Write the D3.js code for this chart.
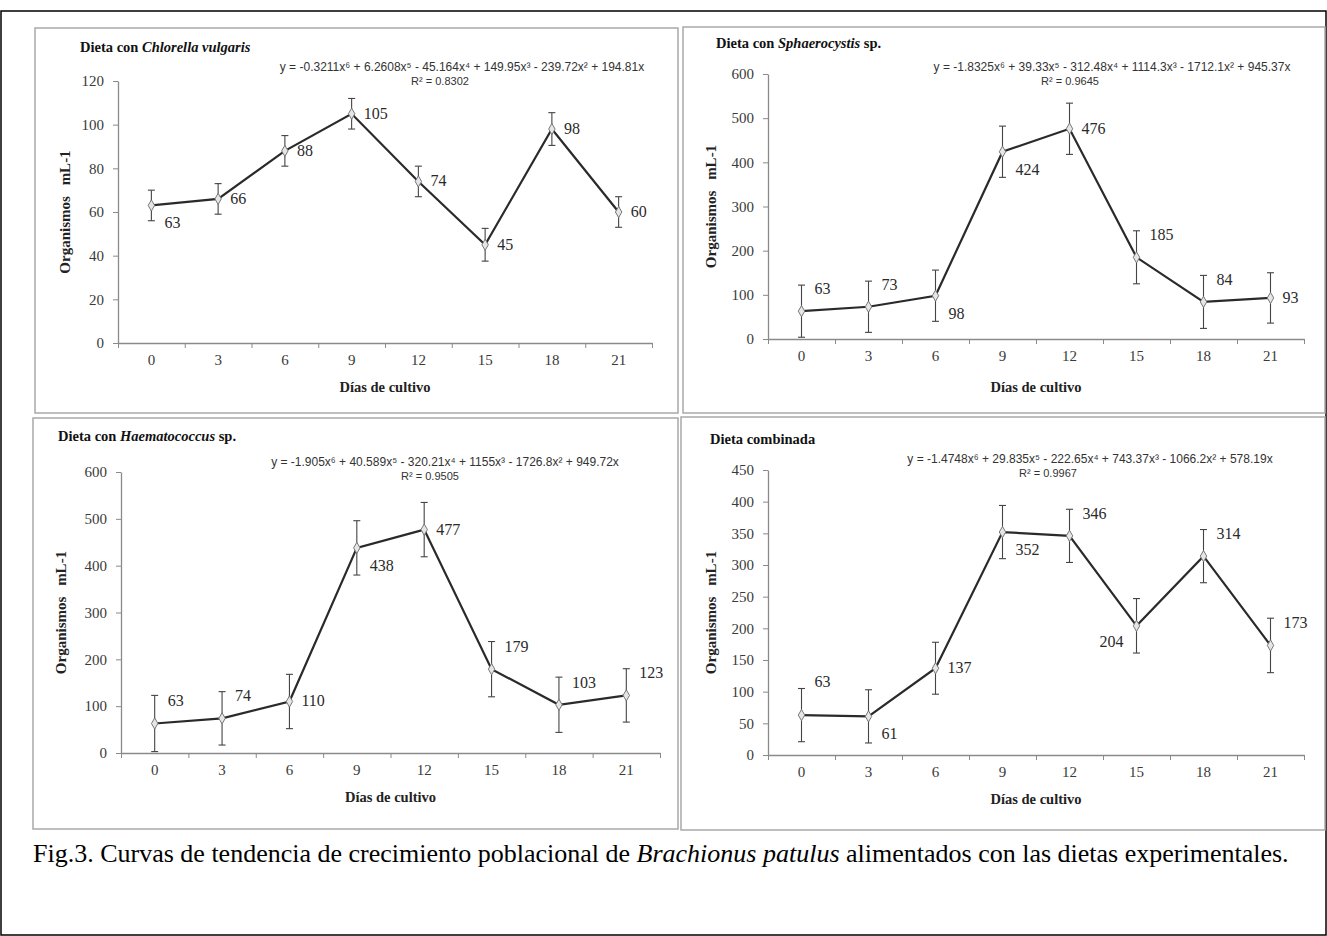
<!DOCTYPE html>
<html>
<head>
<meta charset="utf-8">
<script src="https://cdn.jsdelivr.net/npm/d3@7"></script>
<style>
  body { margin: 0; background: #fff; }
  svg text { font-family: "Liberation Serif", "Times New Roman", serif; }
</style>
</head>
<body>
<div class="svg-container"></div>
<script>
const outerWidth = 1327;
const outerHeight = 936;

// data
const days = [0, 3, 6, 9, 12, 15, 18, 21];

const chlorella = [63, 66, 88, 105, 74, 45, 98, 60];
const chlorellaErr = [7, 7, 7, 7, 7, 7.5, 7.5, 7];
const chlorellaTicks = [0, 20, 40, 60, 80, 100, 120];

const sphaero = [63, 73, 98, 424, 476, 185, 84, 93];
const sphaeroErr = [59, 58, 58, 58, 58, 60, 60, 57];
const sphaeroTicks = [0, 100, 200, 300, 400, 500, 600];

const haemato = [63, 74, 110, 438, 477, 179, 103, 123];
const haematoErr = [60, 57, 58, 58, 58, 59, 59, 57];
const haematoTicks = [0, 100, 200, 300, 400, 500, 600];

const combinada = [63, 61, 137, 352, 346, 204, 314, 173];
const combinadaErr = [42, 42, 41, 42, 42, 43, 42, 43];
const combinadaTicks = [0, 50, 100, 150, 200, 250, 300, 350, 400, 450];

const eqChlorella = ['y = -0.3211x\u2076 + 6.2608x\u2075 - 45.164x\u2074 + 149.95x\u00b3 - 239.72x\u00b2 + 194.81x', 'R\u00b2 = 0.8302'];
const eqSphaero = ['y = -1.8325x\u2076 + 39.33x\u2075 - 312.48x\u2074 + 1114.3x\u00b3 - 1712.1x\u00b2 + 945.37x', 'R\u00b2 = 0.9645'];
const eqHaemato = ['y = -1.905x\u2076 + 40.589x\u2075 - 320.21x\u2074 + 1155x\u00b3 - 1726.8x\u00b2 + 949.72x', 'R\u00b2 = 0.9505'];
const eqCombinada = ['y = -1.4748x\u2076 + 29.835x\u2075 - 222.65x\u2074 + 743.37x\u00b3 - 1066.2x\u00b2 + 578.19x', 'R\u00b2 = 0.9967'];

// where each value label sits relative to its point
const placeChlorella = ['br', 'r', 'r', 'r', 'r', 'r', 'r', 'r'];
const placeSphaero = ['tr', 'tr', 'br', 'br', 'r', 'tr', 'tr', 'r'];
const placeHaemato = ['tr', 'tr', 'r', 'br', 'r', 'tr', 'tr', 'tr'];
const placeCombinada = ['tt', 'br', 'r', 'br', 'tr', 'bl', 'tr', 'tr'];

const panels = [
  { title: ['Dieta con ', 'Chlorella vulgaris', ''], values: chlorella, err: chlorellaErr, ticks: chlorellaTicks, eq: eqChlorella, place: placeChlorella,
    box: [35, 28, 643, 385], plot: { left: 118, right: 652, top: 81, bottom: 343 }, titleXY: [80, 52], yTitleX: 70, xTitleY: 392,
    eqX: 462, eqY: 71, r2X: 440 },
  { title: ['Dieta con ', 'Sphaerocystis', ' sp.'], values: sphaero, err: sphaeroErr, ticks: sphaeroTicks, eq: eqSphaero, place: placeSphaero,
    box: [683, 27, 642, 386], plot: { left: 768, right: 1304, top: 74, bottom: 339 }, titleXY: [716, 48], yTitleX: 716, xTitleY: 392,
    eqX: 1112, eqY: 71, r2X: 1070 },
  { title: ['Dieta con ', 'Haematococcus', ' sp.'], values: haemato, err: haematoErr, ticks: haematoTicks, eq: eqHaemato, place: placeHaemato,
    box: [33, 418, 645, 411], plot: { left: 121, right: 660, top: 472, bottom: 753 }, titleXY: [58, 441], yTitleX: 66, xTitleY: 802,
    eqX: 445, eqY: 466, r2X: 430 },
  { title: ['Dieta combinada', '', ''], values: combinada, err: combinadaErr, ticks: combinadaTicks, eq: eqCombinada, place: placeCombinada,
    box: [681, 417, 644, 413], plot: { left: 768, right: 1304, top: 470, bottom: 755 }, titleXY: [710, 444], yTitleX: 716, xTitleY: 804,
    eqX: 1090, eqY: 463, r2X: 1048 }
];

const svg = d3.select('.svg-container')
  .append('svg')
  .attr('width', outerWidth)
  .attr('height', outerHeight);

// outer frame
svg.append('rect')
  .attr('x', 1).attr('y', 11)
  .attr('width', outerWidth - 2).attr('height', outerHeight - 12)
  .attr('fill', 'none')
  .attr('stroke', '#000')
  .attr('stroke-width', 1.5);

panels.forEach(p => {
  const g = svg.append('g');

  g.append('rect')
    .attr('x', p.box[0]).attr('y', p.box[1])
    .attr('width', p.box[2]).attr('height', p.box[3])
    .attr('fill', '#fff')
    .attr('stroke', '#a9a9a9')
    .attr('stroke-width', 1.5);

  const title = g.append('text')
    .attr('x', p.titleXY[0]).attr('y', p.titleXY[1])
    .style('font-size', '14.5px').style('font-weight', 'bold').attr('fill', '#111');
  title.append('tspan').text(p.title[0]);
  if (p.title[1]) title.append('tspan').style('font-style', 'italic').text(p.title[1]);
  if (p.title[2]) title.append('tspan').text(p.title[2]);

  // trendline equation
  g.append('text')
    .attr('x', p.eqX).attr('y', p.eqY)
    .attr('text-anchor', 'middle')
    .style('font-family', '"Liberation Sans", Arial, sans-serif')
    .style('font-size', '12px')
    .attr('fill', '#333')
    .text(p.eq[0]);
  g.append('text')
    .attr('x', p.r2X).attr('y', p.eqY + 14)
    .attr('text-anchor', 'middle')
    .style('font-family', '"Liberation Sans", Arial, sans-serif')
    .style('font-size', '11px')
    .attr('fill', '#333')
    .text(p.eq[1]);

  const xBand = d3.scaleBand()
    .domain(days)
    .range([p.plot.left, p.plot.right]);
  const xEdge = d3.scaleLinear()
    .domain([0, days.length])
    .range([p.plot.left, p.plot.right]);
  const yScale = d3.scaleLinear()
    .domain([0, d3.max(p.ticks)])
    .range([p.plot.bottom, p.plot.top]);
  const cx = d => xBand(d) + xBand.bandwidth() / 2;

  // y axis
  const yAxis = g.append('g')
    .attr('transform', `translate(${p.plot.left}, 0)`)
    .call(d3.axisLeft(yScale).tickValues(p.ticks).tickSize(5).tickPadding(9).tickSizeOuter(0));
  // x axis: ticks between categories
  const xTicks = g.append('g')
    .attr('transform', `translate(0, ${p.plot.bottom})`)
    .call(d3.axisBottom(xEdge).tickValues(d3.range(days.length + 1)).tickSize(5).tickFormat('').tickSizeOuter(0));
  const xLabels = g.append('g')
    .attr('transform', `translate(0, ${p.plot.bottom})`)
    .call(d3.axisBottom(xBand).tickSize(0).tickPadding(11));
  xLabels.select('.domain').remove();

  [yAxis, xTicks].forEach(a => {
    a.select('.domain').attr('stroke', '#8a8a8a').attr('stroke-width', 1.3);
    a.selectAll('.tick line').attr('stroke', '#8a8a8a');
  });
  [yAxis, xLabels].forEach(a => {
    a.selectAll('text')
      .style('font-family', '"Liberation Serif", "Times New Roman", serif')
      .style('font-size', '15px')
      .attr('fill', '#3a3a3a');
  });

  // axis titles
  g.append('text')
    .attr('x', (p.plot.left + p.plot.right) / 2)
    .attr('y', p.xTitleY)
    .attr('text-anchor', 'middle')
    .style('font-size', '14.5px').style('font-weight', 'bold')
    .attr('fill', '#222')
    .text('Días de cultivo');
  g.append('text')
    .attr('transform', `translate(${p.yTitleX}, ${(p.plot.top + p.plot.bottom) / 2}) rotate(-90)`)
    .attr('text-anchor', 'middle')
    .style('font-size', '15px').style('font-weight', 'bold')
    .style('word-spacing', '7px')
    .attr('fill', '#222')
    .text('Organismos mL-1');

  const pts = days.map((d, i) => ({ day: d, v: p.values[i], e: p.err[i], place: p.place[i] }));

  // error bars
  const eb = g.append('g').attr('stroke', '#444').attr('stroke-width', 1.1);
  eb.selectAll('line.bar').data(pts).enter().append('line')
    .attr('x1', d => cx(d.day)).attr('x2', d => cx(d.day))
    .attr('y1', d => yScale(d.v - d.e)).attr('y2', d => yScale(d.v + d.e));
  eb.selectAll('line.capTop').data(pts).enter().append('line')
    .attr('x1', d => cx(d.day) - 3.5).attr('x2', d => cx(d.day) + 3.5)
    .attr('y1', d => yScale(d.v + d.e)).attr('y2', d => yScale(d.v + d.e));
  eb.selectAll('line.capBot').data(pts).enter().append('line')
    .attr('x1', d => cx(d.day) - 3.5).attr('x2', d => cx(d.day) + 3.5)
    .attr('y1', d => yScale(d.v - d.e)).attr('y2', d => yScale(d.v - d.e));

  // series line
  g.append('path')
    .datum(pts)
    .attr('fill', 'none')
    .attr('stroke', '#2a2a2a')
    .attr('stroke-width', 2.2)
    .attr('d', d3.line().x(d => cx(d.day)).y(d => yScale(d.v)));

  // markers
  g.selectAll('path.marker').data(pts).enter().append('path')
    .attr('class', 'marker')
    .attr('transform', d => `translate(${cx(d.day)}, ${yScale(d.v)})`)
    .attr('d', d3.symbol(d3.symbolDiamond, 36))
    .attr('fill', '#e6e6e6')
    .attr('stroke', '#777')
    .attr('stroke-width', 1);

  // value labels
  const off = {
    r: [12, 5, 'start'], tr: [13, -17, 'start'], tt: [13, -28, 'start'],
    br: [13, 23, 'start'], bl: [-13, 21, 'end']
  };
  g.selectAll('text.val').data(pts).enter().append('text')
    .attr('x', d => cx(d.day) + off[d.place][0])
    .attr('y', d => yScale(d.v) + off[d.place][1])
    .attr('text-anchor', d => off[d.place][2])
    .style('font-size', '16px')
    .attr('fill', '#2a2a2a')
    .text(d => d.v);
});

// caption
const caption = svg.append('text')
  .attr('x', 33).attr('y', 862)
  .style('font-size', '26px')
  .attr('fill', '#000');
caption.append('tspan').text('Fig.3. Curvas de tendencia de crecimiento poblacional de ');
caption.append('tspan').style('font-style', 'italic').text('Brachionus patulus');
caption.append('tspan').text(' alimentados con las dietas experimentales.');
</script>
</body>
</html>
